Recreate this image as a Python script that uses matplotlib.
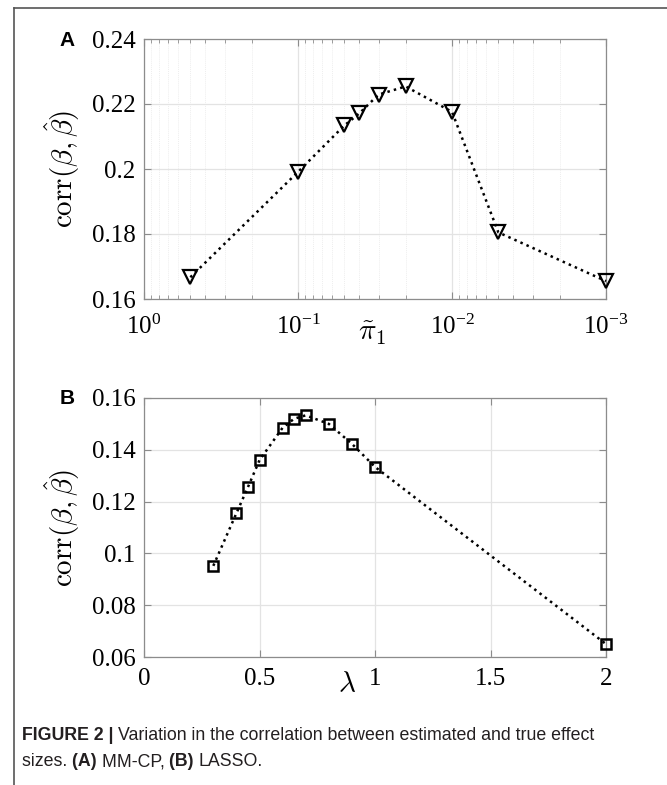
import matplotlib
matplotlib.use("Agg")
import matplotlib.pyplot as plt
from matplotlib import font_manager
from matplotlib.lines import Line2D
from matplotlib.ticker import FixedLocator, FuncFormatter, LogLocator

# data
pi1 = [0.5, 0.1, 0.05, 0.04, 0.03, 0.02, 0.01, 0.005, 0.001]
corr_mmcp = [0.1667, 0.1991, 0.2134, 0.2171, 0.2229, 0.2254, 0.2176, 0.1805, 0.1655]

lam = [0.3, 0.4, 0.45, 0.5, 0.6, 0.65, 0.7, 0.8, 0.9, 1.0, 2.0]
corr_lasso = [0.0952, 0.1155, 0.1256, 0.1360, 0.1485, 0.1520, 0.1533, 0.1500, 0.1423, 0.1334, 0.0650]

a_xticks = [1, 0.1, 0.01, 0.001]
a_xticklabels = [r"$10^{0}$", r"$10^{-1}$", r"$10^{-2}$", r"$10^{-3}$"]
a_yticks = [0.16, 0.18, 0.20, 0.22, 0.24]
b_xticks = [0, 0.5, 1, 1.5, 2]
b_yticks = [0.06, 0.08, 0.10, 0.12, 0.14, 0.16]

plt.rcParams["font.family"] = "serif"
plt.rcParams["font.serif"] = ["Liberation Serif", "DejaVu Serif"]
plt.rcParams["mathtext.fontset"] = "custom"
plt.rcParams["mathtext.rm"] = "Liberation Serif"
plt.rcParams["mathtext.it"] = "Liberation Serif:italic"
plt.rcParams["mathtext.bf"] = "Liberation Serif:bold"

names = {f.name for f in font_manager.fontManager.ttflist}
if "Liberation Sans Narrow" in names:
    cap_family, cap_size = "Liberation Sans Narrow", 13
else:
    cap_family, cap_size = "Liberation Sans", 12.8

W, H = 667, 785
fig = plt.figure(figsize=(W / 100, H / 100), dpi=100)

spine_col = "#8c8c8c"
grid_col = "#e3e3e3"
tick_fs = 18
label_fs = 21


def g(v, pos=None):
    return "%g" % v


def style(ax):
    for s in ax.spines.values():
        s.set_color(spine_col)
        s.set_linewidth(0.9)
    ax.tick_params(which="both", direction="in", top=True, right=True,
                   colors=spine_col, labelcolor="black", labelsize=tick_fs)
    ax.tick_params(which="major", length=5, width=0.8)
    ax.tick_params(axis="y", pad=6)
    ax.tick_params(axis="x", pad=8)
    ax.grid(True, which="major", color=grid_col, lw=0.9)
    ax.set_axisbelow(True)


# panel A
axA = fig.add_axes([144 / W, 1 - 299 / H, 462 / W, 260 / H])
axA.plot(pi1, corr_mmcp, ls=":", color="black", lw=1.8, marker="v", ms=10,
         mfc="none", mec="black", mew=1.6, clip_on=False, zorder=3)
axA.set_xscale("log")
axA.set_xlim(1, 1e-3)
axA.set_ylim(0.16, 0.24)
axA.xaxis.set_major_locator(FixedLocator(a_xticks))
axA.xaxis.set_major_formatter(FuncFormatter(lambda v, p: a_xticklabels[a_xticks.index(min(a_xticks, key=lambda t: abs(t - v)))]))
axA.xaxis.set_minor_locator(LogLocator(base=10, subs=range(2, 10)))
axA.xaxis.set_minor_formatter(FuncFormatter(lambda v, p: ""))
axA.yaxis.set_major_locator(FixedLocator(a_yticks))
axA.yaxis.set_major_formatter(FuncFormatter(g))
style(axA)
axA.tick_params(which="minor", length=3, width=0.6)
axA.tick_params(axis="x", pad=11)
axA.grid(True, which="minor", axis="x", color="#eeeeee", lw=0.7, ls=(0, (1, 1)))
axA.set_ylabel(r"$\mathrm{corr}(\beta,\hat{\beta})$", fontsize=label_fs,
               math_fontfamily="cm")
axA.yaxis.set_label_coords(-0.135, 0.5)
axA.text(0.494, -0.13, r"$\tilde{\pi}_1$", transform=axA.transAxes,
         fontsize=label_fs, ha="center", va="center", math_fontfamily="cm")

# panel B
axB = fig.add_axes([144 / W, 1 - 657 / H, 462 / W, 259 / H])
axB.plot(lam, corr_lasso, ls=":", color="black", lw=1.8, marker="s", ms=7,
         mfc="none", mec="black", mew=1.8, clip_on=False, zorder=3)
axB.set_xlim(0, 2)
axB.set_ylim(0.06, 0.16)
axB.xaxis.set_major_locator(FixedLocator(b_xticks))
axB.xaxis.set_major_formatter(FuncFormatter(g))
axB.yaxis.set_major_locator(FixedLocator(b_yticks))
axB.yaxis.set_major_formatter(FuncFormatter(g))
style(axB)
axB.set_ylabel(r"$\mathrm{corr}(\beta,\hat{\beta})$", fontsize=label_fs,
               math_fontfamily="cm")
axB.yaxis.set_label_coords(-0.135, 0.5)
axB.text(0.44, -0.11, r"$\lambda$", transform=axB.transAxes,
         fontsize=label_fs, ha="center", va="center", math_fontfamily="cm")

# panel letters
fig.text(67 / W, 1 - 40 / H, "A", family="Liberation Sans", weight="bold",
         fontsize=15, ha="center", va="center")
fig.text(67 / W, 1 - 398 / H, "B", family="Liberation Sans", weight="bold",
         fontsize=15, ha="center", va="center")

# frame of the figure page
fig.add_artist(Line2D([14 / W, 1], [1 - 8 / H, 1 - 8 / H], color="#555555", lw=1.2))
fig.add_artist(Line2D([14 / W, 14 / W], [0, 1 - 8 / H], color="#555555", lw=1.2))

# caption, built piece by piece for the bold parts
cap_col = "#231f20"
x0 = 22
parts1 = [("FIGURE 2 | ", "bold"),
          ("Variation in the correlation between estimated and true effect", "normal")]
parts2 = [("sizes. ", "normal"), ("(A) ", "bold"), ("MM-CP, ", "normal"),
          ("(B) ", "bold"), ("LASSO.", "normal")]
for ypix, parts in [(735, parts1), (762, parts2)]:
    x = x0
    for s, w in parts:
        t = fig.text(x / W, 1 - ypix / H, s, family=cap_family, weight=w,
                     fontsize=cap_size, va="center", color=cap_col)
        fig.canvas.draw()
        x = t.get_window_extent().x1

fig.savefig("out.png", dpi=100)
